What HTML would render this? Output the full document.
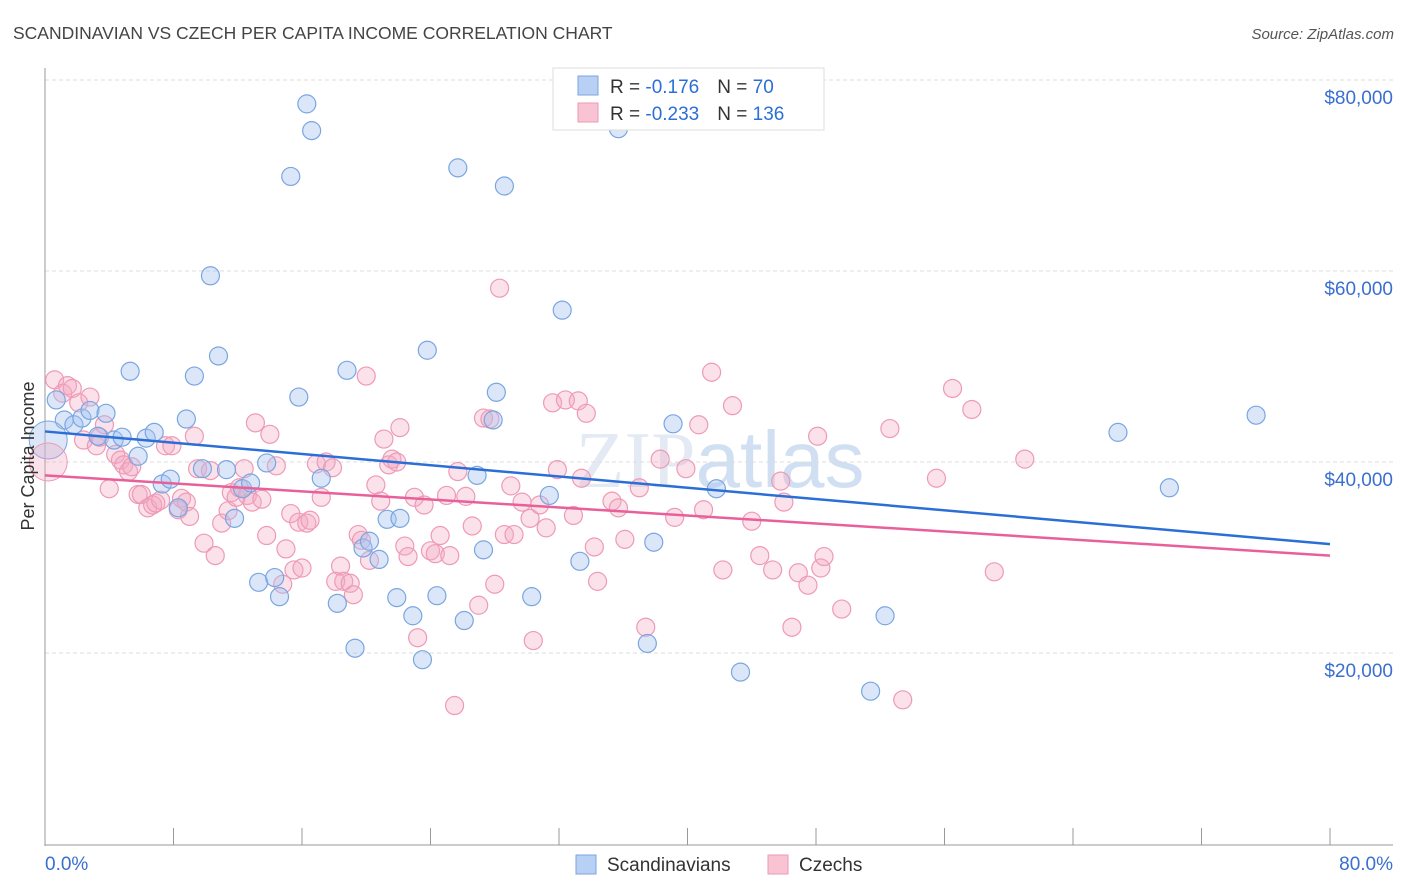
<!DOCTYPE html>
<html><head><meta charset="utf-8"><style>
body{margin:0;background:#fff;font-family:"Liberation Sans",sans-serif;}
svg{display:block}
</style></head><body>
<svg id="chart" width="1406" height="892" xmlns="http://www.w3.org/2000/svg" font-family="Liberation Sans, sans-serif">
<text x="13" y="39" font-size="17.5" fill="#444">SCANDINAVIAN VS CZECH PER CAPITA INCOME CORRELATION CHART</text>
<text x="1394" y="39" font-size="15" fill="#555" text-anchor="end" font-style="italic">Source: ZipAtlas.com</text>
<text x="720" y="487" font-size="80" fill="#dde6f2" text-anchor="middle" font-family="Liberation Serif, serif" opacity="0.8">ZIP<tspan font-family="Liberation Sans, sans-serif" fill="#c6d8ef">atlas</tspan></text>
<g id="grid"></g><g id="axes"></g><g id="pts"></g><g id="lines"></g>
<text transform="translate(34,456) rotate(-90)" font-size="18" fill="#333" text-anchor="middle">Per Capita Income</text>
<g>
<rect x="553" y="68" width="271" height="62" fill="#fff" stroke="#ddd"/>
<rect x="578" y="76" width="20" height="19" fill="#b7d0f3" stroke="#7aa6e0"/>
<rect x="578" y="103" width="20" height="19" fill="#f8c4d4" stroke="#ee9ab6"/>
<text x="610" y="93" font-size="19" fill="#333">R = <tspan fill="#2b6fd6"> -0.176</tspan><tspan dx="18">N = </tspan><tspan fill="#2b6fd6"> 70</tspan></text>
<text x="610" y="120" font-size="19" fill="#333">R = <tspan fill="#2b6fd6"> -0.233</tspan><tspan dx="18">N = </tspan><tspan fill="#2b6fd6"> 136</tspan></text>
</g>
<g>
<rect x="576" y="855" width="20" height="19" fill="#b7d0f3" stroke="#7aa6e0"/>
<text x="607" y="871" font-size="19" fill="#333">Scandinavians</text>
<rect x="768" y="855" width="20" height="19" fill="#f8c4d4" stroke="#ee9ab6"/>
<text x="799" y="871" font-size="19" fill="#333">Czechs</text>
</g>
</svg>
<script>
const blueX=[0.7,1.2,1.8,2.3,2.8,3.3,3.8,4.3,4.8,5.3,5.8,6.3,6.8,7.3,7.8,8.3,8.8,9.3,9.8,10.3,10.8,11.3,11.8,12.3,12.8,13.3,13.8,14.3,14.6,15.3,15.8,16.3,16.6,17.2,18.2,18.8,19.3,19.8,20.2,20.8,21.3,21.9,22.1,22.9,23.5,23.8,24.4,25.7,26.1,26.9,27.3,27.9,28.1,28.6,30.3,31.4,32.2,33.3,35.7,37.5,37.9,39.1,41.8,43.3,51.4,52.3,66.8,70.0,75.4];
const blueY=[46.5,44.4,43.9,44.6,45.4,42.7,45.1,42.3,42.6,49.5,40.6,42.5,43.1,37.7,38.2,35.2,44.5,49.0,39.3,59.5,51.1,39.2,34.1,37.2,37.8,27.4,39.9,27.9,25.9,69.9,46.8,77.5,74.7,38.3,25.2,49.6,20.5,31.0,31.7,29.8,34.0,25.8,34.1,23.9,19.3,51.7,26.0,70.8,23.4,38.6,30.8,44.4,47.3,68.9,25.9,36.5,55.9,29.6,74.9,21.0,31.6,44.0,37.2,18.0,16.0,23.9,43.1,37.3,44.9];
const pinkX=[0.6,1.1,1.4,1.7,2.1,2.4,2.8,3.2,3.4,3.7,4.0,4.4,4.7,4.9,5.2,5.4,5.8,6.0,6.4,6.7,6.9,7.2,7.5,7.9,8.3,8.5,8.8,9.0,9.3,9.5,9.9,10.3,10.6,11.0,11.4,11.6,11.9,12.1,12.4,12.6,12.9,13.1,13.5,13.8,14.0,14.4,14.8,15.0,15.3,15.5,15.8,16.0,16.3,16.5,16.9,17.2,17.5,17.9,18.1,18.4,18.6,19.0,19.2,19.5,19.7,20.0,20.2,20.6,20.9,21.1,21.4,21.6,21.9,22.1,22.4,22.6,23.0,23.2,23.6,24.0,24.3,24.6,25.0,25.2,25.5,25.7,26.2,26.6,27.0,27.3,27.7,28.0,28.3,28.6,29.0,29.2,29.7,30.2,30.4,30.8,31.2,31.6,31.9,32.4,32.9,33.2,33.4,33.7,34.2,34.4,35.3,35.7,36.1,37.0,37.4,38.3,39.2,39.9,40.7,41.0,41.5,42.2,42.8,44.0,44.5,45.3,45.8,46.0,46.5,46.9,47.5,48.1,48.3,48.5,49.6,52.6,53.4,55.5,56.5,57.7,59.1,61.0];
const pinkY=[48.6,47.2,48.0,47.7,46.2,42.3,46.8,41.7,42.6,43.9,37.2,40.8,40.2,39.7,39.0,39.5,36.6,36.6,35.2,35.5,35.7,36.0,41.7,41.7,35.0,36.2,35.8,34.3,42.7,39.3,31.5,39.1,30.2,33.6,34.9,36.8,36.3,37.3,39.3,36.5,35.8,44.1,36.1,32.3,42.9,39.6,27.2,30.9,34.6,28.7,33.7,28.9,33.6,33.9,39.8,36.3,40.0,39.4,27.5,29.1,27.5,27.3,26.1,32.4,31.8,49.0,29.7,37.6,35.9,42.4,39.7,40.3,40.0,43.6,31.2,30.1,36.3,21.6,35.5,30.7,30.4,32.3,36.5,30.2,14.5,39.0,36.4,33.3,25.0,44.6,44.5,27.2,58.2,32.4,37.5,32.4,35.8,34.1,21.3,35.5,33.1,46.2,39.2,46.5,34.4,46.4,38.3,45.1,31.1,27.5,35.9,35.2,31.9,37.3,22.7,40.3,34.2,39.3,43.9,35.0,49.4,28.7,45.9,33.8,30.2,28.7,38.0,35.8,22.7,28.4,27.1,42.7,28.9,30.1,24.6,43.5,15.1,38.3,47.7,45.5,28.5,40.3];
const bigX=[0.2,0.2];
const bigY=[42.3,40.0];
const trendBlue=[43.2,31.4];
const trendPink=[38.6,30.2];
const yTicks=[20,40,60,80];
const yTickLabels=["$20,000","$40,000","$60,000","$80,000"];
const xTicks=[0,8,16,24,32,40,48,56,64,72,80];

const NS="http://www.w3.org/2000/svg";
const X0=45,X1=1330,YB=844,YPX=9.55;
const sx=v=>X0+(v/80)*(X1-X0);
const sy=v=>YB-v*YPX;
function mk(parent,tag,attrs){const e=document.createElementNS(NS,tag);for(const k in attrs)e.setAttribute(k,attrs[k]);document.getElementById(parent).appendChild(e);return e;}

yTicks.forEach((t,i)=>{
 const l=mk('grid','line',{x1:X0,x2:1393,y1:sy(t),y2:sy(t),stroke:'#ddd','stroke-dasharray':'4,3'});
 
 
 const tx=mk('grid','text',{x:1393,y:sy(t)+24,'font-size':19,fill:'#3a6fd0','text-anchor':'end'});
 tx.textContent=yTickLabels[i];
 
 
});
const ax=mk('axes','line',{x1:X0,x2:X0,y1:68,y2:846,stroke:'#999'});


const bx=mk('axes','line',{x1:X0,x2:1393,y1:845,y2:845,stroke:'#999'});


xTicks.forEach(t=>{
 const l=mk('axes','line',{x1:sx(t),x2:sx(t),y1:828,y2:845,stroke:'#999'});
 
 
});
const xl0=mk('axes','text',{x:45,y:870,'font-size':19,fill:'#3a6fd0'});xl0.textContent='0.0%';


const xl1=mk('axes','text',{x:1393,y:870,'font-size':19,fill:'#3a6fd0','text-anchor':'end'});xl1.textContent='80.0%';



pinkX.forEach((v,i)=>{
 const c=mk('pts','circle',{cx:sx(v),cy:sy(pinkY[i]),r:9,fill:'rgba(244,170,195,0.35)',stroke:'#ee9ab6','stroke-width':1.2});
 
 
});
blueX.forEach((v,i)=>{
 const c=mk('pts','circle',{cx:sx(v),cy:sy(blueY[i]),r:9,fill:'rgba(164,196,240,0.4)',stroke:'#7aa6e0','stroke-width':1.2});
 
 
});
const b1=mk('pts','circle',{cx:sx(bigX[0]),cy:sy(bigY[0]),r:19,fill:'rgba(164,196,240,0.4)',stroke:'#7aa6e0'});


const b2=mk('pts','circle',{cx:sx(bigX[1]),cy:sy(bigY[1]),r:19,fill:'rgba(244,170,195,0.35)',stroke:'#ee9ab6'});



const tb=mk('lines','line',{x1:sx(0),y1:sy(trendBlue[0]),x2:sx(80),y2:sy(trendBlue[1]),stroke:'#2b6fd6','stroke-width':2.5});


const tp=mk('lines','line',{x1:sx(0),y1:sy(trendPink[0]),x2:sx(80),y2:sy(trendPink[1]),stroke:'#e8609a','stroke-width':2.5});


</script>
</body></html>
